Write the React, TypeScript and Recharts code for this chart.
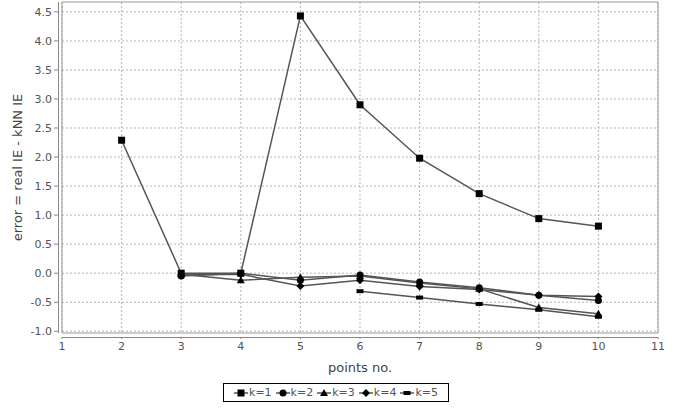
import { LineChart, Line, XAxis, YAxis, CartesianGrid, ReferenceArea } from 'recharts'

const points = [2, 3, 4, 5, 6, 7, 8, 9, 10]
const k1 = [2.29, 0.0, 0.0, 4.43, 2.9, 1.98, 1.37, 0.94, 0.81]
const k2 = [null, -0.05, 0.0, -0.12, -0.03, -0.15, -0.25, -0.38, -0.47]
const k3 = [null, -0.02, -0.12, -0.07, -0.05, -0.17, -0.27, -0.59, -0.7]
const k4 = [null, -0.03, -0.02, -0.22, -0.12, -0.23, -0.28, -0.38, -0.4]
const k5 = [null, null, null, null, -0.31, -0.42, -0.53, -0.63, -0.75]

const xTicks = [1, 2, 3, 4, 5, 6, 7, 8, 9, 10, 11]
const yTicks = [-1, -0.5, 0, 0.5, 1, 1.5, 2, 2.5, 3, 3.5, 4, 4.5]
const seriesNames = ['k=1', 'k=2', 'k=3', 'k=4', 'k=5']
const shapes = ['square', 'circle', 'triangle', 'diamond', 'bar']

const data = points.map((p, i) => ({
  p,
  k1: k1[i],
  k2: k2[i],
  k3: k3[i],
  k4: k4[i],
  k5: k5[i],
}))

const FONT = '"DejaVu Sans", sans-serif'
const LINE = '#555'

function Marker({ shape, cx, cy }: { shape: string; cx: number; cy: number }) {
  if (shape === 'square') return <rect x={cx - 3.5} y={cy - 3.5} width={7} height={7} fill="#000" />
  if (shape === 'circle') return <circle cx={cx} cy={cy} r={3.5} fill="#000" />
  if (shape === 'triangle')
    return <polygon points={`${cx},${cy - 4} ${cx + 4},${cy + 3} ${cx - 4},${cy + 3}`} fill="#000" />
  if (shape === 'diamond')
    return <polygon points={`${cx},${cy - 4} ${cx + 4},${cy} ${cx},${cy + 4} ${cx - 4},${cy}`} fill="#000" />
  return <rect x={cx - 3.5} y={cy - 2} width={7} height={4} fill="#000" />
}

const makeDot = (shape: string) => (props: any) => {
  const { cx, cy, key, value } = props
  if (value == null || cx == null || cy == null) return <g key={key} />
  return (
    <g key={key}>
      <Marker shape={shape} cx={cx} cy={cy} />
    </g>
  )
}

const YTick = (props: any) => {
  const { x, y, payload } = props
  return (
    <g>
      <line x1={x + 2} x2={x + 6} y1={y} y2={y} stroke="#888" />
      <text x={x} y={y} dy="0.35em" textAnchor="end" fill="#555" fontSize={11} fontFamily={FONT}>
        {Number(payload.value).toFixed(1)}
      </text>
    </g>
  )
}

const XTick = (props: any) => {
  const { x, y, payload } = props
  return (
    <g>
      <line x1={x} x2={x} y1={y - 5} y2={y - 3} stroke="#888" />
      <text x={x} y={y} dy="0.71em" textAnchor="middle" fill="#555" fontSize={11} fontFamily={FONT}>
        {payload.value}
      </text>
    </g>
  )
}

function LegendBox() {
  return (
    <div
      style={{
        position: 'absolute',
        left: 223,
        top: 383,
        width: 226,
        height: 19,
        border: '1px solid #000',
        boxSizing: 'border-box',
        display: 'flex',
        alignItems: 'center',
        justifyContent: 'center',
        gap: 4,
        fontFamily: FONT,
        fontSize: 11,
        color: '#555',
        background: '#fff',
      }}
    >
      {seriesNames.map((name, i) => (
        <span key={name} style={{ display: 'flex', alignItems: 'center' }}>
          <svg width={14} height={10}>
            <line x1={0} x2={14} y1={5} y2={5} stroke={LINE} strokeWidth={1.5} />
            <Marker shape={shapes[i]} cx={7} cy={5} />
          </svg>
          <span style={{ marginLeft: 1 }}>{name}</span>
        </span>
      ))}
    </div>
  )
}

export default function App() {
  const keys = ['k1', 'k2', 'k3', 'k4', 'k5']
  return (
    <div style={{ position: 'absolute', left: 0, top: 0, width: 681, height: 410, background: '#fff' }}>
      <LineChart width={681} height={410} data={data} margin={{ top: 2, right: 23, bottom: 47, left: 0 }}>
        <CartesianGrid stroke="#b5b5b5" strokeDasharray="2 2" horizontalValues={yTicks} verticalValues={xTicks} />
        <ReferenceArea x1={1} x2={11} y1={-1.03} y2={4.67} fill="none" stroke="#999" ifOverflow="visible" />
        <XAxis
          dataKey="p"
          type="number"
          domain={[1, 11]}
          ticks={xTicks}
          allowDataOverflow
          axisLine={false}
          tickLine={false}
          tickSize={4}
          tickMargin={5}
          height={30}
          tick={<XTick />}
          label={{
            value: 'points no.',
            position: 'insideBottom',
            offset: -9,
            style: { fontFamily: FONT, fontSize: 13, fill: '#444' },
          }}
        />
        <YAxis
          type="number"
          domain={[-1.03, 4.67]}
          ticks={yTicks}
          allowDataOverflow
          axisLine={false}
          tickLine={false}
          tickSize={4}
          tickMargin={6}
          width={62}
          tick={<YTick />}
          label={{
            value: 'error = real IE - kNN IE',
            angle: -90,
            position: 'insideLeft',
            offset: 17,
            style: { textAnchor: 'middle', fontFamily: FONT, fontSize: 13, fill: '#444' },
          }}
        />
        {keys.map((k, i) => (
          <Line
            key={k}
            dataKey={k}
            name={seriesNames[i]}
            stroke={LINE}
            strokeWidth={1.5}
            dot={makeDot(shapes[i])}
            activeDot={false}
            isAnimationActive={false}
            connectNulls={false}
          />
        ))}
      </LineChart>
      <div style={{ position: 'absolute', left: 58, top: 2, width: 1, height: 331, background: '#888' }} />
      <div style={{ position: 'absolute', left: 62, top: 337, width: 596, height: 1, background: '#888' }} />
      <LegendBox />
    </div>
  )
}
